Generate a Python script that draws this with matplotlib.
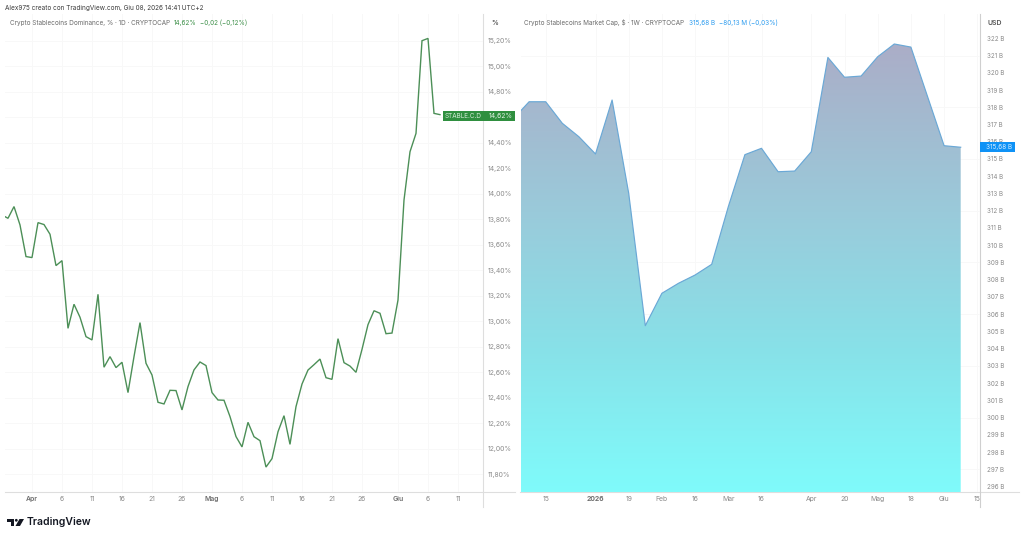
import matplotlib
matplotlib.use("Agg")
import matplotlib.pyplot as plt
import matplotlib.dates as mdates
from matplotlib.colors import LinearSegmentedColormap
from matplotlib.patches import Rectangle, Polygon, Ellipse
import numpy as np
import pandas as pd

plt.rcParams['font.family'] = ['Inter', 'DejaVu Sans']

# ---- data ----
dominance_start = '2026-03-27'
dominance = [13.833, 13.807, 13.899, 13.755, 13.507, 13.499, 13.773, 13.758, 13.682, 13.436,
             13.475, 12.944, 13.133, 13.031, 12.879, 12.853, 13.211, 12.639, 12.722, 12.636,
             12.678, 12.440, 12.722, 12.989, 12.670, 12.578, 12.364, 12.351, 12.458, 12.456,
             12.304, 12.487, 12.618, 12.680, 12.652, 12.440, 12.382, 12.380, 12.252, 12.095,
             12.014, 12.207, 12.094, 12.063, 11.856, 11.922, 12.133, 12.259, 12.034, 12.330,
             12.507, 12.617, 12.659, 12.703, 12.557, 12.544, 12.863, 12.675, 12.648, 12.599,
             12.779, 12.973, 13.082, 13.062, 12.902, 12.907, 13.166, 13.950, 14.329, 14.473,
             15.200, 15.218, 14.630, 14.620]
dom_tick_dates = ['2026-04-01', '2026-04-06', '2026-04-11', '2026-04-16', '2026-04-21', '2026-04-26',
                  '2026-05-01', '2026-05-06', '2026-05-11', '2026-05-16', '2026-05-21', '2026-05-26',
                  '2026-06-01', '2026-06-06', '2026-06-11']
dom_tick_labels = ['Apr', '6', '11', '16', '21', '26', 'Mag', '6', '11', '16', '21', '26', 'Giu', '6', '11']
dom_y_ticks = [11.8, 12.0, 12.2, 12.4, 12.6, 12.8, 13.0, 13.2, 13.4, 13.6, 13.8, 14.0, 14.2, 14.4,
               14.6, 14.8, 15.0, 15.2]

cap_start = '2025-12-01'
market_cap = [317.28, 318.32, 318.32, 317.07, 316.29, 315.29, 318.42, 313.01, 305.33, 307.21,
              307.79, 308.27, 308.89, 312.23, 315.25, 315.62, 314.26, 314.30, 315.42, 320.89,
              319.74, 319.81, 320.93, 321.67, 321.49, 318.63, 315.77, 315.68]
cap_tick_dates = ['2025-12-15', '2026-01-05', '2026-01-19', '2026-02-02', '2026-02-16', '2026-03-02',
                  '2026-03-16', '2026-04-06', '2026-04-20', '2026-05-04', '2026-05-18', '2026-06-01',
                  '2026-06-15']
cap_tick_labels = ['15', '2026', '19', 'Feb', '16', 'Mar', '16', 'Apr', '20', 'Mag', '18', 'Giu', '15']
cap_y_ticks = list(range(296, 323))

# ---- layout helpers (pixels) ----
W, H = 1024, 539
GRAY = '#8A8A8A'
GRID = '#F8F8F8'
AXIS = '#DEDEDE'
GREEN = '#3C8F48'
BLUE = '#0F92F6'
HEAD = 4.6
fig = plt.figure(figsize=(W / 100, H / 100), dpi=100, facecolor='white')


def px(x, y):
    return x / W, 1 - y / H


def label(x, y, s, **kw):
    kw.setdefault('va', 'center')
    kw.setdefault('ha', 'left')
    kw.setdefault('color', GRAY)
    kw.setdefault('fontsize', HEAD)
    return fig.text(*px(x, y), s, **kw)


def hline(x0, x1, y, color=AXIS, lw=0.8):
    fig.add_artist(plt.Line2D([x0 / W, x1 / W], [1 - y / H] * 2, color=color, lw=lw, zorder=0))


def vline(x, y0, y1, color=AXIS, lw=0.8):
    fig.add_artist(plt.Line2D([x / W] * 2, [1 - y0 / H, 1 - y1 / H], color=color, lw=lw, zorder=0))


def make_axes(x0, x1, y0=14, y1=492):
    ax = fig.add_axes([x0 / W, 1 - y1 / H, (x1 - x0) / W, (y1 - y0) / H])
    ax.patch.set_alpha(0)
    for s in ax.spines.values():
        s.set_visible(False)
    ax.tick_params(axis='both', length=0, labelsize=4.9, labelcolor=GRAY)
    ax.yaxis.tick_right()
    ax.grid(True, color=GRID, lw=0.7)
    ax.set_axisbelow(True)
    return ax


# ---- left pane: dominance ----
axl = make_axes(5, 483)
dom_x = pd.date_range(dominance_start, periods=len(dominance), freq='D')
axl.plot(dom_x, dominance, color='#4C8F57', lw=1.0, solid_joinstyle='miter', zorder=3)
apr1 = mdates.date2num(pd.Timestamp('2026-04-01'))
axl.set_xlim(apr1 + (5 - 32) / 6.0, apr1 + (483 - 32) / 6.0)
axl.set_ylim(15.2 - (492 - 40.7) / 127.5, 15.2 + (40.7 - 14) / 127.5)
axl.set_xticks(pd.to_datetime(dom_tick_dates), dom_tick_labels)
axl.set_yticks(dom_y_ticks, [f'{v:.2f}%'.replace('.', ',') for v in dom_y_ticks])
axl.tick_params(axis='y', pad=3.6)
axl.tick_params(axis='x', pad=3.2)
for t in axl.get_xticklabels():
    if t.get_text() in {'Apr', 'Mag', 'Giu'}:
        t.set_fontweight('semibold')
        t.set_color('#6E6E6E')

# ---- right pane: market cap ----
axr = make_axes(520.7, 980)
cap_x = pd.date_range(cap_start, periods=len(market_cap), freq='7D')
dec15 = mdates.date2num(pd.Timestamp('2025-12-15'))
axr.set_xlim(dec15 + (520.7 - 545.7) / 16.6 * 7, dec15 + (980 - 545.7) / 16.6 * 7)
ymin, ymax = 322 - (492 - 38.3) / 17.24, 322 + (38.3 - 14) / 17.24
axr.set_ylim(ymin, ymax)
area = axr.fill_between(cap_x, market_cap, ymin, facecolor='none', edgecolor='none')
cmap = LinearSegmentedColormap.from_list('area', [(0.0, '#AEA8C4'), (0.45, '#98CDDC'),
                                                  (0.70, '#88E1E8'), (1.0, '#7FFBFB')])
xl = axr.get_xlim()
grad = np.linspace(0, 1, 256)[:, None]
im = axr.imshow(grad, cmap=cmap, extent=[xl[0], xl[1], ymin, ymax], aspect='auto', origin='upper', zorder=2)
im.set_clip_path(area.get_paths()[0], transform=axr.transData)
axr.set_xlim(xl)
axr.set_ylim(ymin, ymax)
axr.plot(cap_x, market_cap, color='#6AA8D6', lw=0.85, zorder=3)
axr.set_xticks(pd.to_datetime(cap_tick_dates), cap_tick_labels)
axr.set_yticks(cap_y_ticks, [f'{v} B' for v in cap_y_ticks])
axr.tick_params(axis='y', pad=5, labelsize=4.5)
axr.tick_params(axis='x', pad=3.2)
axr.grid(False)
for d in cap_tick_dates:
    axr.axvline(pd.Timestamp(d), color=GRID, lw=0.7, zorder=1)
for v in cap_y_ticks[1::3]:
    axr.axhline(v, color=GRID, lw=0.7, zorder=1)
for t in axr.get_xticklabels():
    if t.get_text() == '2026':
        t.set_fontweight('bold')
        t.set_color('#6E6E6E')

# ---- pane frames ----
hline(5, 515, 492)
hline(520, 1019, 492)
vline(483, 14, 507)
vline(980, 14, 507, color='#CFCFCF')

# ---- headers ----
label(5, 8, 'Alex975 creato con TradingView.com, Giu 08, 2026 14:41 UTC+2', color='#3A3A3A', fontsize=4.62)
label(10, 23, 'Crypto Stablecoins Dominance, % · 1D · CRYPTOCAP', color='#6A6A6A')
label(174, 23, '14,62%', color=GREEN)
label(200, 23, '−0,02 (−0,12%)', color=GREEN)
label(491, 23, '%', color='#555555', fontweight='semibold', fontsize=4.9)
label(524.5, 23, 'Crypto Stablecoins Market Cap, $ · 1W · CRYPTOCAP', color='#6A6A6A')
label(689, 23, '315,68 B', color='#2B9BEF')
label(719, 23, '−80,13 M (−0,03%)', color='#2B9BEF')
label(988, 23, 'USD', color='#555555', fontweight='semibold', fontsize=4.9)

# ---- price labels ----
fig.add_artist(Rectangle(px(443, 121), 72 / W, 10 / H, transform=fig.transFigure, facecolor='#2F8F3F',
                         edgecolor='none', zorder=5))
label(445, 116, 'STABLE.C.D', color='#D5EBD8', zorder=6)
label(489, 116, '14,62%', color='#E6F3E8', zorder=6, fontsize=4.9)
fig.add_artist(Rectangle(px(980, 151.5), 35 / W, 9.5 / H, transform=fig.transFigure, facecolor=BLUE,
                         edgecolor='none', zorder=5))
label(986, 147, '315,68 B', color='#D8EEFF', zorder=6)

# ---- logo ----
logo = '#131722'
fig.add_artist(Polygon([px(7, 519), px(14, 519), px(14, 526), px(10.5, 526), px(10.5, 521.5), px(7, 521.5)],
                       transform=fig.transFigure, facecolor=logo, edgecolor='none'))
fig.add_artist(Ellipse(px(16.3, 520.3), 2.8 / W, 2.8 / H, transform=fig.transFigure, facecolor=logo,
                       edgecolor='none'))
fig.add_artist(Polygon([px(19.5, 519), px(24, 519), px(20, 526), px(15.5, 526)],
                       transform=fig.transFigure, facecolor=logo, edgecolor='none'))
label(27, 522.3, 'TradingView', color=logo, fontsize=7.5, fontweight='semibold')

fig.savefig('out.png', dpi=100)
